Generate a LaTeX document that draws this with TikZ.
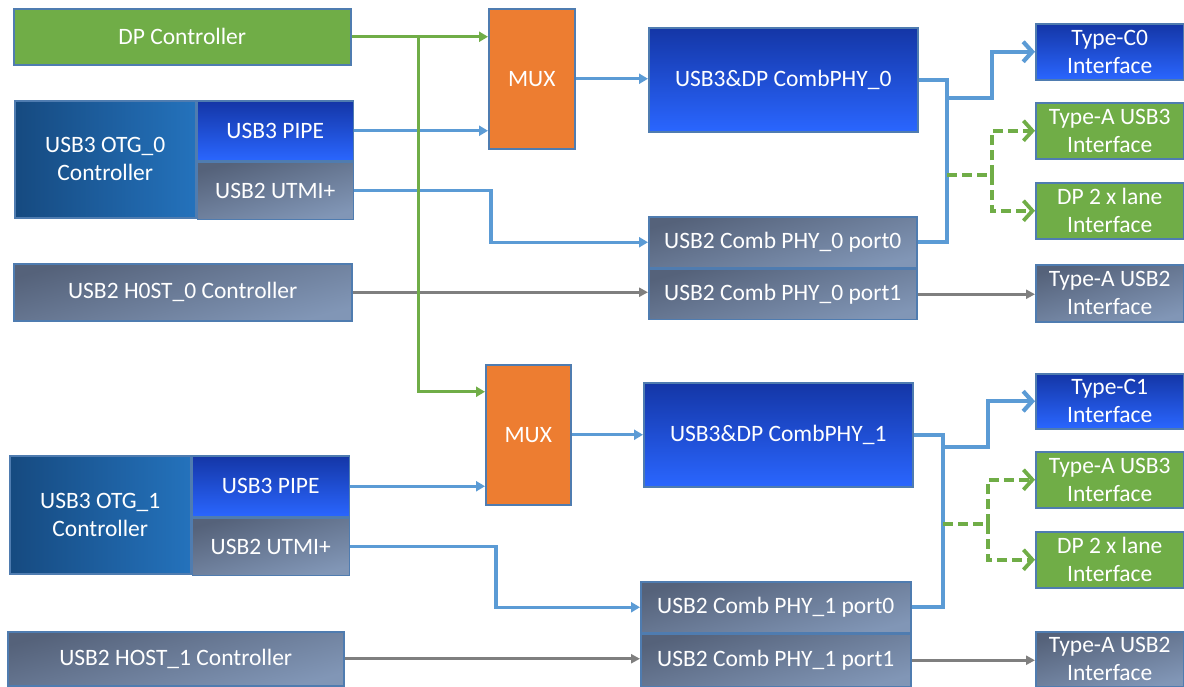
\documentclass[tikz,border=0pt]{standalone}
\usepackage{fontspec}
\setmainfont{Carlito}
\usetikzlibrary{positioning,arrows.meta}

\definecolor{edgeblue}{HTML}{4F7CB0}
\definecolor{dpgreen}{HTML}{70AD47}
\definecolor{muxorange}{HTML}{ED7D31}
\definecolor{hitop}{HTML}{1436A6}
\definecolor{hibot}{HTML}{2A66FF}
\definecolor{otgleft}{HTML}{164A80}
\definecolor{otgright}{HTML}{2472BC}
\definecolor{grtop}{HTML}{55627A}
\definecolor{grbot}{HTML}{8196B6}
\definecolor{usbblue}{HTML}{5B9BD5}
\definecolor{wiregray}{HTML}{7F7F7F}

\begin{document}
\begin{tikzpicture}[x=1pt, y=-1pt,
	box/.style={draw=edgeblue, line width=1.5pt, text=white, inner sep=0pt, align=center, anchor=north west, font=\fontsize{23.5}{28}\selectfont},
	sz/.style 2 args={minimum width=#1pt, minimum height=#2pt},
	dpbox/.style={box, fill=dpgreen},
	muxbox/.style={box, fill=muxorange},
	hibox/.style={box, top color=hitop, bottom color=hibot},
	otgbox/.style={box, left color=otgleft, right color=otgright},
	grbox/.style={box, top color=grtop, bottom color=grbot, shading angle=15},
	usbline/.style={draw=usbblue, line width=3.2pt, -{Triangle[length=9pt,width=10pt]}},
	usbbus/.style={draw=usbblue, line width=3.6pt},
	typec/.style={draw=usbblue, line width=4.2pt, -{Straight Barb[length=9pt,width=20pt]}},
	dpline/.style={draw=dpgreen, line width=3.2pt, -{Triangle[length=9pt,width=10pt]}},
	dpdash/.style={draw=dpgreen, line width=3.8pt, dash pattern=on 10pt off 5pt},
	u2line/.style={draw=wiregray, line width=3pt, -{Triangle[length=9pt,width=9pt]}}
	]
	\fill[white] (0,0) rectangle (1184,686);
	\useasboundingbox (0,0) rectangle (1184,686);

	% port 0
	\node[dpbox, sz={337}{56}] (dpc) at (13,8) {DP Controller};
	\node[otgbox, sz={181}{117}] (otg0) at (14,100) {USB3 OTG\_0\\Controller};
	\node[hibox, sz={156}{60}] (pipe0) at (otg0.north east) {USB3 PIPE};
	\node[grbox, sz={156}{57}] (utmi0) at (pipe0.south west) {USB2 UTMI+};
	\node[grbox, sz={338}{57}] (host0) at (13,263) {USB2 H0ST\_0 Controller};
	\node[muxbox, sz={86}{140}] (mux0) at (488,8) {MUX};
	\node[hibox, sz={269}{104}] (comb0) at (648,27) {USB3\&DP CombPHY\_0};
	\node[grbox, sz={268}{51}] (p00) at (648,216) {USB2 Comb PHY\_0 port0};
	\node[grbox, sz={268}{50}] (p01) at (p00.south west) {USB2 Comb PHY\_0 port1};
	\node[hibox, sz={148}{56}] (tc0) at (1035,23) {Type-C0\\Interface};
	\node[dpbox, sz={148}{56}] (ta30) at (1035,102) {Type-A USB3\\Interface};
	\node[dpbox, sz={148}{56}] (dp0) at (1035,182) {DP 2 x lane\\Interface};
	\node[grbox, sz={148}{57}] (ta20) at (1035,264) {Type-A USB2\\Interface};

	% port 1
	\node[otgbox, sz={181}{118}] (otg1) at (9,455) {USB3 OTG\_1\\Controller};
	\node[hibox, sz={157}{61}] (pipe1) at (otg1.north east) {USB3 PIPE};
	\node[grbox, sz={157}{57}] (utmi1) at (pipe1.south west) {USB2 UTMI+};
	\node[grbox, sz={336}{54}] (host1) at (7,631) {USB2 HOST\_1 Controller};
	\node[muxbox, sz={85}{140}] (mux1) at (485,364) {MUX};
	\node[hibox, sz={269}{104}] (comb1) at (643,382) {USB3\&DP CombPHY\_1};
	\node[grbox, sz={270}{51}] (p10) at (640,581) {USB2 Comb PHY\_1 port0};
	\node[grbox, sz={270}{52}] (p11) at (p10.south west) {USB2 Comb PHY\_1 port1};
	\node[hibox, sz={148}{55}] (tc1) at (1035,373) {Type-C1\\Interface};
	\node[dpbox, sz={148}{56}] (ta31) at (1035,451) {Type-A USB3\\Interface};
	\node[dpbox, sz={148}{56}] (dp1) at (1035,531) {DP 2 x lane\\Interface};
	\node[grbox, sz={148}{55}] (ta21) at (1035,631) {Type-A USB2\\Interface};

	\coordinate (sw0) at (947,98);
	\coordinate (dsh0) at (947,175);
	\coordinate (sw1) at (943,447);
	\coordinate (dsh1) at (943,524);

	\draw[usbline] (pipe0.east) -- (pipe0.east -| mux0.west);
	\draw[usbline] (utmi0.east) -- ++(137,0) |- (p00.west);
	\draw[u2line] (host0.east) -- (host0.east -| p01.west);
	\draw[usbline] (mux0.east) -- (mux0.east -| comb0.west);
	\draw[usbbus] (comb0.east) -| (sw0) |- (p00.east);
	\draw[typec] (sw0) -- ++(45,0) |- (tc0.west);
	\draw[dpdash] (dsh0) -- ++(45,0) coordinate (dj0);
	\draw[dpdash, -{Straight Barb[length=9pt,width=20pt]}] (dj0) |- (ta30.west);
	\draw[dpdash, -{Straight Barb[length=9pt,width=20pt]}] (dj0) |- (dp0.west);
	\draw[u2line] (p01.east) -- (p01.east -| ta20.west);

	\draw[usbline] (pipe1.east) -- (pipe1.east -| mux1.west);
	\draw[usbline] (utmi1.east) -- ++(146,0) |- (p10.west);
	\draw[u2line] (host1.east) -- (host1.east -| p11.west);
	\draw[usbline] (mux1.east) -- (mux1.east -| comb1.west);
	\draw[usbbus] (comb1.east) -| (sw1) |- (p10.east);
	\draw[typec] (sw1) -- ++(45,0) |- (tc1.west);
	\draw[dpdash] (dsh1) -- ++(45,0) coordinate (dj1);
	\draw[dpdash, -{Straight Barb[length=9pt,width=20pt]}] (dj1) |- (ta31.west);
	\draw[dpdash, -{Straight Barb[length=9pt,width=20pt]}] (dj1) |- (dp1.west);
	\draw[u2line] (p11.east) -- (p11.east -| ta21.west);

	% DP to both muxes
	\draw[dpline] (dpc.east) -- (dpc.east -| mux0.west);
	\draw[dpline] (dpc.east) ++(67,0) |- ([yshift=43pt]mux1.west);
\end{tikzpicture}
\end{document}
